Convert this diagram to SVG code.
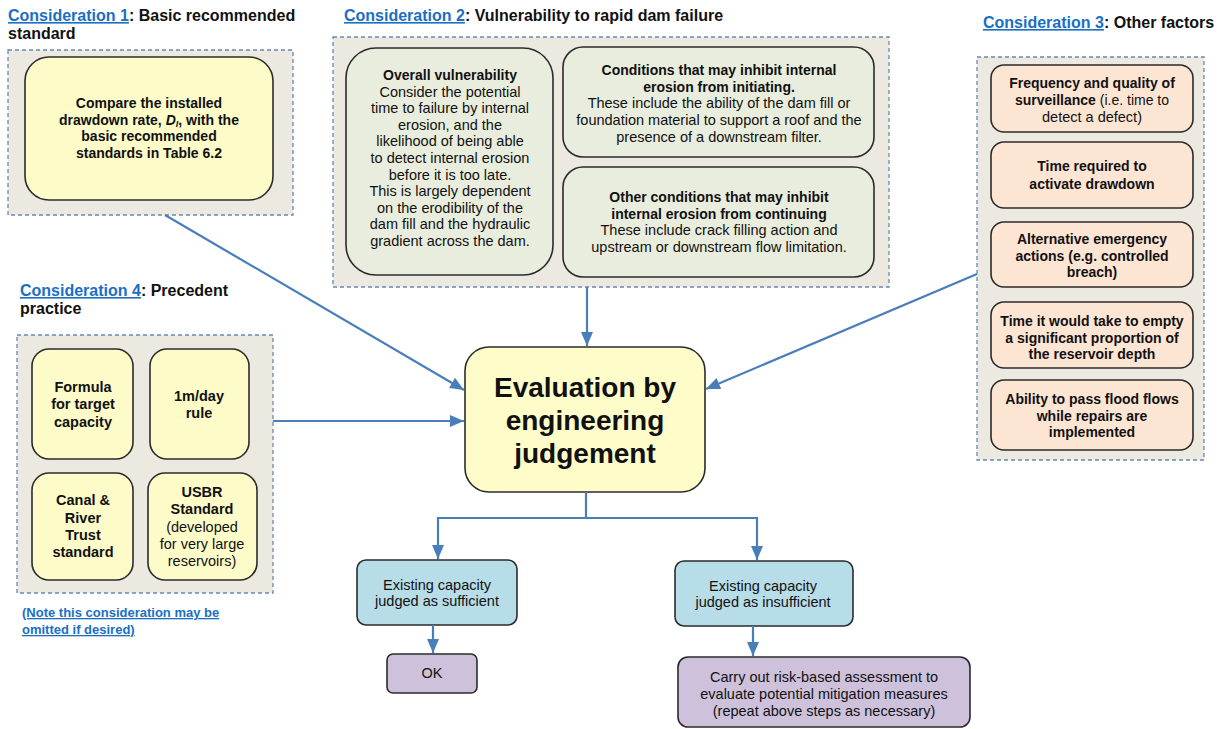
<svg xmlns="http://www.w3.org/2000/svg" width="1217" height="729" viewBox="0 0 1217 729">
<defs>
<marker id="ah" viewBox="0 0 14 12" refX="14" refY="6" markerWidth="14" markerHeight="12" markerUnits="userSpaceOnUse" orient="auto">
<path d="M0,0 L14,6 L0,12 z" fill="#4a7ebb"/>
</marker>
<style>
text{font-family:"Liberation Sans",Arial,sans-serif;fill:#111}
.h{font-size:16px;font-weight:bold}
.lk{fill:#1a6fc4;text-decoration:underline}
.cont{fill:#ece9e1;stroke:#6a89b2;stroke-width:1.3;stroke-dasharray:4 3}
.bx{stroke:#2b2b2b;stroke-width:1.6}
.yel{fill:#fdfcc8}
.grn{fill:#e9eddd}
.pch{fill:#fde5d3}
.blu{fill:#b7dde8}
.pur{fill:#cdc1db}
.b14{font-size:14px;font-weight:bold;text-anchor:middle}
.r14{font-size:14.5px;text-anchor:middle}
.b145{font-size:14.5px;font-weight:bold;text-anchor:middle}
.c{text-anchor:middle}
.conn{stroke:#4a7ebb;stroke-width:2.2;fill:none}
</style>
</defs>

<g id="consideration1">
<text class="h" x="8" y="21"><tspan class="lk">Consideration 1</tspan>: Basic recommended</text>
<text class="h" x="8" y="39">standard</text>
<rect class="cont" x="8" y="50" width="285" height="165"/>
<rect class="bx yel" x="25" y="57" width="248" height="143" rx="24"/>
<text class="b14" x="149" y="108">Compare the installed</text>
<text class="b14" x="149" y="125">drawdown rate, <tspan font-style="italic">D</tspan><tspan font-style="italic" font-size="9" dy="2">I</tspan><tspan dy="-2">, with the</tspan></text>
<text class="b14" x="149" y="141">basic recommended</text>
<text class="b14" x="149" y="158">standards in Table 6.2</text>
</g>

<g id="consideration2">
<text class="h" x="344" y="21"><tspan class="lk">Consideration 2</tspan>: Vulnerability to rapid dam failure</text>
<rect class="cont" x="333" y="37" width="556" height="250"/>
</g>

<g id="overall-vulnerability">
<rect class="bx grn" x="346" y="48" width="207" height="227" rx="30"/>
<text class="b14" x="450" y="80">Overall vulnerability</text>
<text class="r14" x="450" y="97">Consider the potential</text>
<text class="r14" x="450" y="113">time to failure by internal</text>
<text class="r14" x="450" y="130">erosion, and the</text>
<text class="r14" x="450" y="146">likelihood of being able</text>
<text class="r14" x="450" y="163">to detect internal erosion</text>
<text class="r14" x="450" y="180">before it is too late.</text>
<text class="r14" x="450" y="196">This is largely dependent</text>
<text class="r14" x="450" y="213">on the erodibility of the</text>
<text class="r14" x="450" y="229">dam fill and the hydraulic</text>
<text class="r14" x="450" y="246">gradient across the dam.</text>
</g>

<g id="conditions-initiating">
<rect class="bx grn" x="563" y="47" width="311" height="110" rx="20"/>
<text class="b14" x="719" y="75">Conditions that may inhibit internal</text>
<text class="b14" x="719" y="92">erosion from initiating.</text>
<text class="r14" x="719" y="108">These include the ability of the dam fill or</text>
<text class="r14" x="719" y="125">foundation material to support a roof and the</text>
<text class="r14" x="719" y="142">presence of a downstream filter.</text>
</g>

<g id="conditions-continuing">
<rect class="bx grn" x="563" y="167" width="311" height="110" rx="20"/>
<text class="b14" x="719" y="202">Other conditions that may inhibit</text>
<text class="b14" x="719" y="219">internal erosion from continuing</text>
<text class="r14" x="719" y="235">These include crack filling action and</text>
<text class="r14" x="719" y="252">upstream or downstream flow limitation.</text>
</g>

<g id="consideration3">
<text class="h" x="983" y="28"><tspan class="lk">Consideration 3</tspan>: Other factors</text>
<rect class="cont" x="977" y="57" width="227" height="403"/>
</g>
<g id="factor-surveillance">
<rect class="bx pch" x="991" y="65" width="202" height="67" rx="13"/>
<text class="b14" x="1092" y="88">Frequency and quality of</text>
<text class="b14" x="1092" y="105">surveillance<tspan font-weight="normal"> (i.e. time to</tspan></text>
<text class="r14" x="1092" y="122" font-size="14px">detect a defect)</text>
</g>
<g id="factor-activate">
<rect class="bx pch" x="991" y="142" width="202" height="66" rx="13"/>
<text class="b14" x="1092" y="171">Time required to</text>
<text class="b14" x="1092" y="189">activate drawdown</text>
</g>
<g id="factor-alternative">
<rect class="bx pch" x="991" y="222" width="202" height="65" rx="13"/>
<text class="b14" x="1092" y="244">Alternative emergency</text>
<text class="b14" x="1092" y="261">actions (e.g. controlled</text>
<text class="b14" x="1092" y="277">breach)</text>
</g>
<g id="factor-empty">
<rect class="bx pch" x="991" y="302" width="202" height="66" rx="13"/>
<text class="b14" x="1092" y="326">Time it would take to empty</text>
<text class="b14" x="1092" y="343">a significant proportion of</text>
<text class="b14" x="1092" y="359">the reservoir depth</text>
</g>
<g id="factor-flood">
<rect class="bx pch" x="991" y="380" width="202" height="70" rx="13"/>
<text class="b14" x="1092" y="404">Ability to pass flood flows</text>
<text class="b14" x="1092" y="421">while repairs are</text>
<text class="b14" x="1092" y="437">implemented</text>
</g>

<g id="consideration4">
<text class="h" x="20" y="296"><tspan class="lk">Consideration 4</tspan>: Precedent</text>
<text class="h" x="20" y="314">practice</text>
<rect class="cont" x="17" y="335" width="256" height="258"/>
<text x="22" y="617" font-size="13" font-weight="bold" class="lk">(Note this consideration may be</text>
<text x="22" y="634" font-size="13" font-weight="bold" class="lk">omitted if desired)</text>
</g>
<g id="formula">
<rect class="bx yel" x="32" y="349" width="101" height="110" rx="17"/>
<text class="b145" x="83" y="392">Formula</text>
<text class="b145" x="83" y="409">for target</text>
<text class="b145" x="83" y="427">capacity</text>
</g>
<g id="one-m-day">
<rect class="bx yel" x="150" y="349" width="99" height="110" rx="17"/>
<text class="b145" x="199" y="401">1m/day</text>
<text class="b145" x="199" y="418">rule</text>
</g>
<g id="canal-river">
<rect class="bx yel" x="32" y="473" width="101" height="107" rx="17"/>
<text class="b145" x="83" y="505">Canal &amp;</text>
<text class="b145" x="83" y="523">River</text>
<text class="b145" x="83" y="540">Trust</text>
<text class="b145" x="83" y="557">standard</text>
</g>
<g id="usbr">
<rect class="bx yel" x="148" y="473" width="109" height="107" rx="17"/>
<text class="b145" x="202" y="497">USBR</text>
<text class="b145" x="202" y="514">Standard</text>
<text class="r14" x="202" y="532">(developed</text>
<text class="r14" x="202" y="549">for very large</text>
<text class="r14" x="202" y="566">reservoirs)</text>
</g>

<g id="evaluation">
<rect class="bx" fill="#fefdc9" x="465" y="347" width="240" height="145" rx="24"/>
<text class="c" x="585" y="397" font-size="28" font-weight="bold">Evaluation by</text>
<text class="c" x="585" y="430" font-size="28" font-weight="bold">engineering</text>
<text class="c" x="585" y="463" font-size="28" font-weight="bold">judgement</text>
</g>

<g id="sufficient">
<rect class="bx blu" x="357" y="560" width="160" height="65" rx="9"/>
<text class="r14" x="437" y="590">Existing capacity</text>
<text class="r14" x="437" y="606">judged as sufficient</text>
</g>
<g id="insufficient">
<rect class="bx blu" x="675" y="561" width="178" height="65" rx="9"/>
<text class="r14" x="763" y="591">Existing capacity</text>
<text class="r14" x="763" y="607">judged as insufficient</text>
</g>
<g id="ok">
<rect class="bx pur" x="387" y="654" width="90" height="39" rx="6"/>
<text class="r14" x="432" y="678">OK</text>
</g>
<g id="risk-assessment">
<rect class="bx pur" x="678" y="657" width="292" height="70" rx="10"/>
<text class="r14" x="824" y="682">Carry out risk-based assessment to</text>
<text class="r14" x="824" y="699">evaluate potential mitigation measures</text>
<text class="r14" x="824" y="716">(repeat above steps as necessary)</text>
</g>

<g id="connectors">
<line class="conn" x1="165" y1="215" x2="464" y2="390" marker-end="url(#ah)"/>
<line class="conn" x1="587" y1="287" x2="587" y2="346" marker-end="url(#ah)"/>
<line class="conn" x1="273" y1="421" x2="464" y2="421" marker-end="url(#ah)"/>
<line class="conn" x1="977" y1="274" x2="706" y2="389" marker-end="url(#ah)"/>
<polyline class="conn" points="586,492 586,518 438,518 438,559" marker-end="url(#ah)"/>
<polyline class="conn" points="586,518 757,518 757,560" marker-end="url(#ah)"/>
<line class="conn" x1="433" y1="625" x2="433" y2="653" marker-end="url(#ah)"/>
<line class="conn" x1="753" y1="626" x2="753" y2="656" marker-end="url(#ah)"/>
</g>
</svg>
